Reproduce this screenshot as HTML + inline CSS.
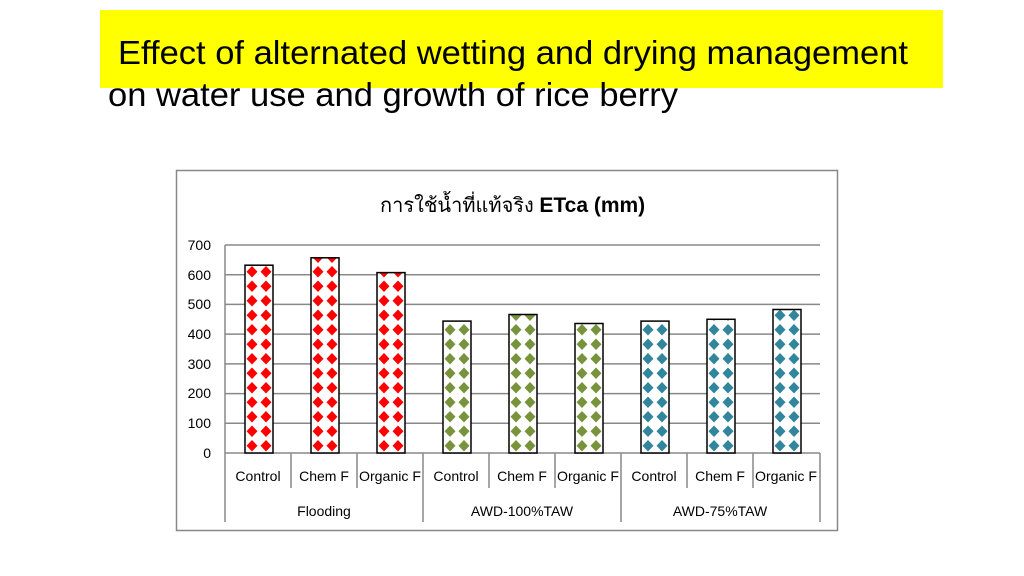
<!DOCTYPE html>
<html><head><meta charset="utf-8"><style>
body{margin:0;background:#fff;width:1024px;height:576px;overflow:hidden}
svg{display:block}
</style></head><body>
<svg width="1024" height="576" viewBox="0 0 1024 576" xmlns="http://www.w3.org/2000/svg" font-family="Liberation Sans, DejaVu Sans, sans-serif">
<defs>
<pattern id="pr" width="14" height="14.5" patternUnits="userSpaceOnUse" x="0" y="453">
<rect width="14" height="14.5" fill="#fff"/><path d="M7 1.5 L12.5 7.25 L7 13 L1.5 7.25Z" fill="#ff0000"/></pattern>
<pattern id="pg" width="14" height="14.5" patternUnits="userSpaceOnUse" x="0" y="453">
<rect width="14" height="14.5" fill="#fff"/><path d="M7 1.5 L12.5 7.25 L7 13 L1.5 7.25Z" fill="#77933c"/></pattern>
<pattern id="pb" width="14" height="14.5" patternUnits="userSpaceOnUse" x="0" y="453">
<rect width="14" height="14.5" fill="#fff"/><path d="M7 1.5 L12.5 7.25 L7 13 L1.5 7.25Z" fill="#31859c"/></pattern>
</defs>
<rect x="100" y="10" width="843" height="78" fill="#ffff00"/>
<text x="118" y="64" font-size="33" fill="#000" textLength="790" lengthAdjust="spacingAndGlyphs">Effect of alternated wetting and drying management</text>
<text x="108" y="106" font-size="33" fill="#000" textLength="570" lengthAdjust="spacingAndGlyphs">on water use and growth of rice berry</text>
<rect x="176.5" y="170.5" width="661" height="360" fill="#fff" stroke="#888" stroke-width="1.5"/>
<text x="380" y="212" font-size="20" fill="#000">การใช้น้ำที่แท้จริง <tspan font-weight="bold" font-size="21">ETca (mm)</tspan></text>
<g stroke="#888" stroke-width="1.5">
<line x1="225" y1="245" x2="820" y2="245"/><line x1="225" y1="274.7" x2="820" y2="274.7"/>
<line x1="225" y1="304.4" x2="820" y2="304.4"/><line x1="225" y1="334.1" x2="820" y2="334.1"/>
<line x1="225" y1="363.9" x2="820" y2="363.9"/><line x1="225" y1="393.6" x2="820" y2="393.6"/>
<line x1="225" y1="423.3" x2="820" y2="423.3"/><line x1="225" y1="453" x2="820" y2="453"/>
<line x1="225" y1="245" x2="225" y2="522"/>
<line x1="291" y1="453" x2="291" y2="488"/><line x1="357" y1="453" x2="357" y2="488"/>
<line x1="423" y1="453" x2="423" y2="522"/>
<line x1="489" y1="453" x2="489" y2="488"/><line x1="555" y1="453" x2="555" y2="488"/>
<line x1="621" y1="453" x2="621" y2="522"/>
<line x1="687" y1="453" x2="687" y2="488"/><line x1="753" y1="453" x2="753" y2="488"/>
<line x1="820" y1="453" x2="820" y2="522"/>
</g>
<g font-size="14" fill="#000" text-anchor="end">
<text x="211" y="250">700</text><text x="211" y="280">600</text><text x="211" y="309">500</text>
<text x="211" y="339">400</text><text x="211" y="369">300</text><text x="211" y="398">200</text>
<text x="211" y="428">100</text><text x="211" y="458">0</text>
</g>
<g stroke="#000" stroke-width="1.5">
<rect transform="translate(245,0)" x="0" y="265.2" width="28" height="187.8" fill="url(#pr)"/>
<rect transform="translate(311,0)" x="0" y="257.8" width="28" height="195.2" fill="url(#pr)"/>
<rect transform="translate(377,0)" x="0" y="272.6" width="28" height="180.4" fill="url(#pr)"/>
<rect transform="translate(443,0)" x="0" y="321.1" width="28" height="131.9" fill="url(#pg)"/>
<rect transform="translate(509,0)" x="0" y="314.5" width="28" height="138.5" fill="url(#pg)"/>
<rect transform="translate(575,0)" x="0" y="323.5" width="28" height="129.5" fill="url(#pg)"/>
<rect transform="translate(641,0)" x="0" y="321.1" width="28" height="131.9" fill="url(#pb)"/>
<rect transform="translate(707,0)" x="0" y="319.3" width="28" height="133.7" fill="url(#pb)"/>
<rect transform="translate(773,0)" x="0" y="309.5" width="28" height="143.5" fill="url(#pb)"/>
</g>
<g font-size="14" fill="#000" text-anchor="middle">
<text x="258" y="481">Control</text><text x="324" y="481">Chem F</text><text x="390" y="481" textLength="62" lengthAdjust="spacingAndGlyphs">Organic F</text>
<text x="456" y="481">Control</text><text x="522" y="481">Chem F</text><text x="588" y="481" textLength="62" lengthAdjust="spacingAndGlyphs">Organic F</text>
<text x="654" y="481">Control</text><text x="720" y="481">Chem F</text><text x="786" y="481" textLength="62" lengthAdjust="spacingAndGlyphs">Organic F</text>
<text x="324" y="516">Flooding</text><text x="522" y="516">AWD-100%TAW</text><text x="720" y="516">AWD-75%TAW</text>
</g>
</svg>
</body></html>
